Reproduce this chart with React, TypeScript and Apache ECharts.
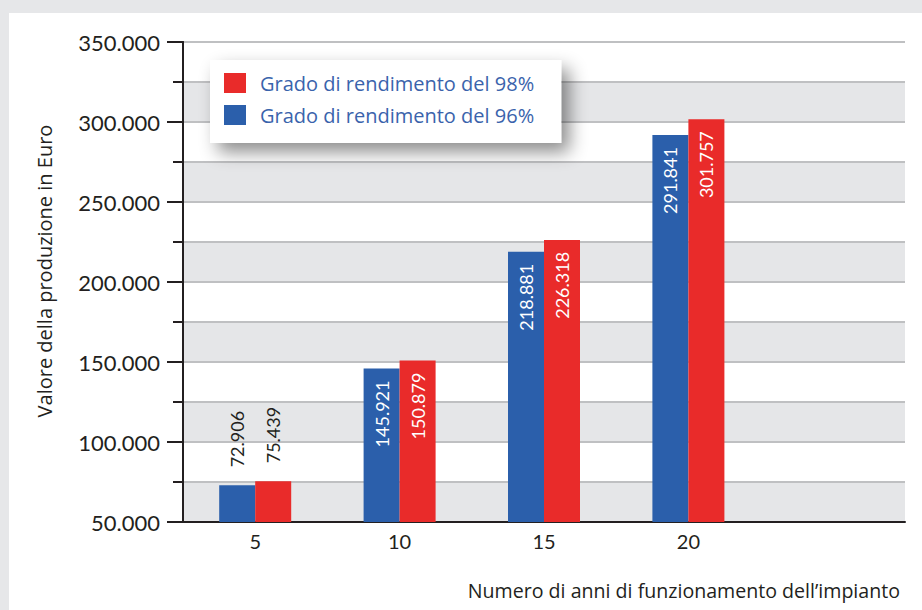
import React, { useEffect, useRef } from 'react';
import * as echarts from 'echarts';

const categories = ['5', '10', '15', '20', ''];
const seriesNames = ['Grado di rendimento del 96%', 'Grado di rendimento del 98%'];
const values96 = [72906, 145921, 218881, 291841];
const values98 = [75439, 150879, 226318, 301757];
const labelOutside = [true, false, false, false];
const yMin = 50000;
const yMax = 350000;
const yMinorStep = 25000;
const yMajorStep = 50000;
const xAxisTitle = 'Numero di anni di funzionamento dell\u2019impianto';
const yAxisTitle = 'Valore della produzione in Euro';
const legendOrder = [seriesNames[1], seriesNames[0]];

const FONT = '"Open Sans", Lato, sans-serif';
const NUMFONT = 'Lato, "Open Sans", sans-serif';
const TEXT = '#231f20';
const BLUE = '#2b5fab';
const RED = '#e92b2a';

const fmt = (n: number) => String(Math.round(n)).replace(/\B(?=(\d{3})+(?!\d))/g, '.');

function buildData(vals: number[]) {
  return vals.map((v, i) =>
    labelOutside[i]
      ? { value: v, label: { position: 'top', align: 'left', verticalAlign: 'middle', color: TEXT, distance: 18 } }
      : { value: v }
  );
}

export default function App() {
  const ref = useRef<HTMLDivElement>(null);
  useEffect(() => {
    document.body.style.margin = '0';
    if (!ref.current) return;
    const chart = echarts.init(ref.current, null, { renderer: 'svg' });
    const barLabel = {
      show: true,
      position: 'insideTop',
      rotate: 90,
      align: 'right',
      verticalAlign: 'middle',
      distance: 12,
      color: '#ffffff',
      fontSize: 18,
      fontFamily: NUMFONT,
      formatter: (p: any) => fmt(p.value),
    };
    const gridRect = { left: 183, right: 17, top: 42, bottom: 88 };
    chart.setOption({
      animation: false,
      backgroundColor: 'transparent',
      textStyle: { fontFamily: FONT },
      grid: [
        { ...gridRect },
        { ...gridRect },
      ],
      legend: {
        data: legendOrder,
        orient: 'vertical',
        left: 210,
        top: 60,
        icon: 'rect',
        itemWidth: 22,
        itemHeight: 20,
        itemGap: 12,
        padding: [13, 27, 18, 14],
        backgroundColor: '#ffffff',
        shadowBlur: 18,
        shadowColor: 'rgba(0,0,0,0.45)',
        shadowOffsetX: 8,
        shadowOffsetY: 9,
        textStyle: { color: '#3a63ac', fontSize: 20, fontFamily: FONT, padding: [0, 0, 0, 9], lineHeight: 20 },
      },
      xAxis: [
        {
          type: 'category',
          gridIndex: 0,
          data: categories,
          axisTick: { show: false },
          axisLine: { lineStyle: { color: TEXT, width: 2 } },
          axisLabel: { color: TEXT, fontSize: 20, margin: 9, fontFamily: NUMFONT },
        },
        { type: 'value', gridIndex: 1, min: 0, max: 1, show: false },
      ],
      yAxis: [
        {
          type: 'value',
          gridIndex: 0,
          min: yMin,
          max: yMax,
          interval: yMinorStep,
          axisLine: { show: true, lineStyle: { color: TEXT, width: 2 } },
          axisTick: { show: true, length: 10, lineStyle: { color: TEXT, width: 2 } },
          axisLabel: { show: false },
          splitLine: { show: true, lineStyle: { color: '#bfc0c2', width: 2 } },
          splitArea: { show: true, areaStyle: { color: ['#e5e6e8', '#ffffff'] } },
        },
        {
          type: 'value',
          gridIndex: 1,
          min: yMin,
          max: yMax,
          interval: yMajorStep,
          axisLine: { show: true, lineStyle: { color: TEXT, width: 2 } },
          axisTick: { show: true, length: 16, lineStyle: { color: TEXT, width: 2 } },
          axisLabel: { color: TEXT, fontSize: 22, margin: 23, fontFamily: NUMFONT, formatter: (v: number) => fmt(v) },
          splitLine: { show: false },
          splitArea: { show: false },
        },
      ],
      graphic: [
        {
          type: 'text',
          x: 44,
          y: 271,
          rotation: Math.PI / 2,
          style: { text: yAxisTitle, fill: TEXT, font: `20px ${FONT}`, align: 'center', verticalAlign: 'middle' },
        },
        {
          type: 'text',
          x: 900,
          y: 590,
          style: { text: xAxisTitle, fill: TEXT, font: `19.6px ${FONT}`, align: 'right', verticalAlign: 'middle' },
        },
      ],
      series: [
        {
          name: seriesNames[0],
          type: 'bar',
          xAxisIndex: 0,
          yAxisIndex: 0,
          barWidth: 36,
          barGap: '0%',
          itemStyle: { color: BLUE },
          label: barLabel,
          data: buildData(values96),
        },
        {
          name: seriesNames[1],
          type: 'bar',
          xAxisIndex: 0,
          yAxisIndex: 0,
          barWidth: 36,
          barGap: '0%',
          itemStyle: { color: RED },
          label: barLabel,
          data: buildData(values98),
        },
      ],
    });
    return () => chart.dispose();
  }, []);
  return (
    <div style={{ position: 'relative', width: 922, height: 610, background: '#e6e7e9', overflow: 'hidden' }}>
      <div style={{ position: 'absolute', left: 9, top: 13, right: 0, bottom: 0, background: '#ffffff' }} />
      <div ref={ref} style={{ position: 'absolute', left: 0, top: 0, width: 922, height: 610 }} />
    </div>
  );
}
